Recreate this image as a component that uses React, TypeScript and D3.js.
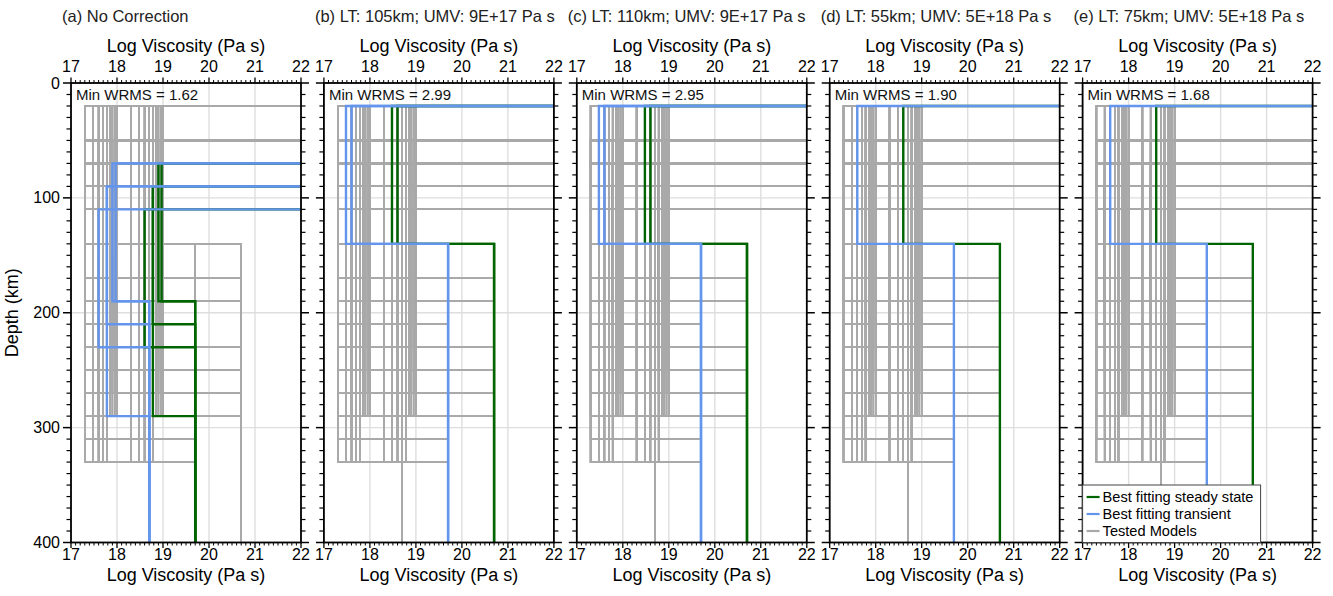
import React from 'react';
import * as d3 from 'd3';

// ---------- data ----------
const panelTitles = [
  '(a) No Correction',
  '(b) LT: 105km; UMV: 9E+17 Pa s',
  '(c) LT: 110km; UMV: 9E+17 Pa s',
  '(d) LT: 55km; UMV: 5E+18 Pa s',
  '(e) LT: 75km; UMV: 5E+18 Pa s',
];
const minWRMS = ['1.62', '2.99', '2.95', '1.90', '1.68'];
const xTickValues = [17, 18, 19, 20, 21, 22];
const yTickValues = [0, 100, 200, 300, 400];
const xDomain = [17, 22];
const yDomain = [0, 400];

// tested models (log10 viscosity, depth km)
const testedLT = [20, 50, 70, 90, 110];
const testedEtaA = [17.3, 17.48, 17.6, 17.7, 17.78, 17.85, 17.9, 17.95, 18.0, 18.3, 18.48, 18.6, 18.7, 18.78, 18.85, 18.9, 18.95, 19.0];
const testedEtaADeep = [17.3, 17.48, 17.6, 17.7, 17.78, 18.3, 18.48, 18.6, 18.7, 18.78];
const testedBaseDepth = [140, 140, 170, 190, 210, 230, 250, 270, 290, 310, 330, 330];
const testedBaseEtaM = [19.7, 20.7, 20.7, 20.7, 19.7, 20.7, 20.7, 20.7, 20.7, 19.7, 19.7, 18.7];
const testedBaseIsDeep = [false, false, false, false, false, false, false, false, false, true, true, true];

// best fitting profiles: [LT, asthenosphere viscosity, asthenosphere base, upper mantle viscosity]
const steadyA = [[70, 18.9, 190, 19.7], [70, 18.97, 190, 19.7], [90, 18.78, 290, 19.7], [90, 18.78, 210, 19.7], [110, 18.6, 230, 19.7]];
const transientA = [[70, 17.9, 190, 18.7], [70, 17.97, 190, 18.7], [90, 17.78, 290, 18.7], [90, 17.78, 210, 18.7], [110, 17.6, 230, 18.7]];
const steadyB = [[20, 18.48, 140, 20.7], [20, 18.6, 140, 20.7]];
const transientB = [[20, 17.48, 140, 19.7], [20, 17.6, 140, 19.7]];
const steadyC = [[20, 18.48, 140, 20.7], [20, 18.6, 140, 20.7]];
const transientC = [[20, 17.48, 140, 19.7], [20, 17.6, 140, 19.7]];
const steadyD = [[20, 18.6, 140, 20.7]];
const transientD = [[20, 17.6, 140, 19.7]];
const steadyE = [[20, 18.6, 140, 20.7]];
const transientE = [[20, 17.6, 140, 19.7]];

const steadySets = [steadyA, steadyB, steadyC, steadyD, steadyE];
const transientSets = [transientA, transientB, transientC, transientD, transientE];

const legendLabels = ['Best fitting steady state', 'Best fitting transient', 'Tested Models'];

// ---------- styles / layout ----------
const GREEN = '#006400';
const BLUE = '#6495ED';
const GRAY = '#a9a9a9';
const GRID = '#dedede';
const FONT = '"Liberation Sans", Arial, Helvetica, sans-serif';
const PLOT_TOP = 83;
const PLOT_BOTTOM = 542.5;
const PLOT_W = 230;
const PANEL_X0 = 71;
const PANEL_STEP = 252.9;

type Profile = number[];

const testedModels: Profile[] = [];
testedLT.forEach((lt) => {
  testedBaseDepth.forEach((base, bi) => {
    const etas = testedBaseIsDeep[bi] ? testedEtaADeep : testedEtaA;
    etas.forEach((ea) => testedModels.push([lt, ea, base, testedBaseEtaM[bi]]));
  });
});

function profilePoints(p: Profile): [number, number][] {
  const [lt, ea, base, em] = p;
  return [
    [xDomain[1], lt],
    [ea, lt],
    [ea, base],
    [em, base],
    [em, yDomain[1]],
  ];
}

function Panel({ idx }: { idx: number }) {
  const left = PANEL_X0 + idx * PANEL_STEP;
  const x = d3.scaleLinear().domain(xDomain).range([left, left + PLOT_W]);
  const y = d3.scaleLinear().domain(yDomain).range([PLOT_TOP, PLOT_BOTTOM]);
  const line = d3
    .line<[number, number]>()
    .x((d) => x(d[0]))
    .y((d) => y(d[1]));
  const xMinor = x.ticks(50);
  const yMinor = y.ticks(40);
  const clipId = `clip${idx}`;
  const right = left + PLOT_W;
  const cx = left + PLOT_W / 2;

  return (
    <g>
      <defs>
        <clipPath id={clipId}>
          <rect x={left} y={PLOT_TOP} width={PLOT_W} height={PLOT_BOTTOM - PLOT_TOP} />
        </clipPath>
      </defs>
      <text x={left - 9} y={22} fontSize={16.5} fontFamily={FONT} fill="#222">
        {panelTitles[idx]}
      </text>
      <text x={cx} y={52} fontSize={18} fontFamily={FONT} textAnchor="middle" fill="#000">
        Log Viscosity (Pa s)
      </text>
      <text x={cx} y={581} fontSize={18} fontFamily={FONT} textAnchor="middle" fill="#000">
        Log Viscosity (Pa s)
      </text>
      {/* grid */}
      <g clipPath={`url(#${clipId})`}>
        {xTickValues.map((v) => (
          <line key={'gx' + v} x1={x(v)} x2={x(v)} y1={PLOT_TOP} y2={PLOT_BOTTOM} stroke={GRID} strokeWidth={1.4} />
        ))}
        {yTickValues.map((v) => (
          <line key={'gy' + v} x1={left} x2={right} y1={y(v)} y2={y(v)} stroke={GRID} strokeWidth={1.4} />
        ))}
        {/* tested */}
        {testedModels.map((m, i) => (
          <path key={'t' + i} d={line(profilePoints(m)) || ''} fill="none" stroke={GRAY} strokeWidth={1.45} />
        ))}
        {steadySets[idx].map((m, i) => (
          <path key={'s' + i} d={line(profilePoints(m)) || ''} fill="none" stroke={GREEN} strokeWidth={2.4} />
        ))}
        {transientSets[idx].map((m, i) => (
          <path key={'r' + i} d={line(profilePoints(m)) || ''} fill="none" stroke={BLUE} strokeWidth={2.4} />
        ))}
      </g>
      {/* frame */}
      <rect x={left} y={PLOT_TOP} width={PLOT_W} height={PLOT_BOTTOM - PLOT_TOP} fill="none" stroke="#000" strokeWidth={1.8} />
      {/* x ticks */}
      {xMinor.map((v, i) => {
        const major = Math.abs(v - Math.round(v)) < 1e-6;
        const len = major ? 5.5 : 3;
        return (
          <g key={'xt' + i}>
            <line x1={x(v)} x2={x(v)} y1={PLOT_TOP} y2={PLOT_TOP - len} stroke="#000" strokeWidth={major ? 1.3 : 1} />
            <line x1={x(v)} x2={x(v)} y1={PLOT_BOTTOM} y2={PLOT_BOTTOM + len} stroke="#000" strokeWidth={major ? 1.3 : 1} />
          </g>
        );
      })}
      {xTickValues.map((v) => (
        <g key={'xl' + v}>
          <text x={x(v)} y={72} fontSize={16} fontFamily={FONT} textAnchor="middle" fill="#000">
            {v}
          </text>
          <text x={x(v)} y={560} fontSize={16} fontFamily={FONT} textAnchor="middle" fill="#000">
            {v}
          </text>
        </g>
      ))}
      {/* y ticks */}
      {yMinor.map((v, i) => {
        const major = v % 100 === 0;
        const len = major ? 8 : 4.5;
        return (
          <g key={'yt' + i}>
            <line x1={left} x2={left - len} y1={y(v)} y2={y(v)} stroke="#000" strokeWidth={major ? 1.5 : 1.2} />
            <line x1={right} x2={right + len} y1={y(v)} y2={y(v)} stroke="#000" strokeWidth={major ? 1.5 : 1.2} />
          </g>
        );
      })}
      {idx === 0 &&
        yTickValues.map((v) => (
          <text key={'yl' + v} x={left - 11} y={y(v) + 5.5} fontSize={16} fontFamily={FONT} textAnchor="end" fill="#000">
            {v}
          </text>
        ))}
      {idx === 0 && (
        <text
          transform={`translate(18, ${(PLOT_TOP + PLOT_BOTTOM) / 2}) rotate(-90)`}
          fontSize={18}
          fontFamily={FONT}
          textAnchor="middle"
          fill="#000"
        >
          Depth (km)
        </text>
      )}
      <text x={left + 5} y={100} fontSize={15} fontFamily={FONT} fill="#111">
        Min WRMS = {minWRMS[idx]}
      </text>
      {idx === 4 && (
        <g>
          <rect x={left} y={485} width={178} height={PLOT_BOTTOM - 485} fill="#fff" stroke="#444" strokeWidth={1} />
          {[GREEN, BLUE, GRAY].map((c, i) => (
            <g key={'lg' + i}>
              <line x1={left + 4} x2={left + 17} y1={497 + i * 17} y2={497 + i * 17} stroke={c} strokeWidth={2.2} />
              <text x={left + 20} y={497 + i * 17 + 5} fontSize={14.6} fontFamily={FONT} fill="#000">
                {legendLabels[i]}
              </text>
            </g>
          ))}
        </g>
      )}
    </g>
  );
}

export default function App() {
  return (
    <svg
      width={1333}
      height={596}
      style={{ position: 'absolute', left: 0, top: 0, background: '#fff' }}
      xmlns="http://www.w3.org/2000/svg"
    >
      <rect x={0} y={0} width={1333} height={596} fill="#fff" />
      {[0, 1, 2, 3, 4].map((i) => (
        <Panel key={i} idx={i} />
      ))}
    </svg>
  );
}
